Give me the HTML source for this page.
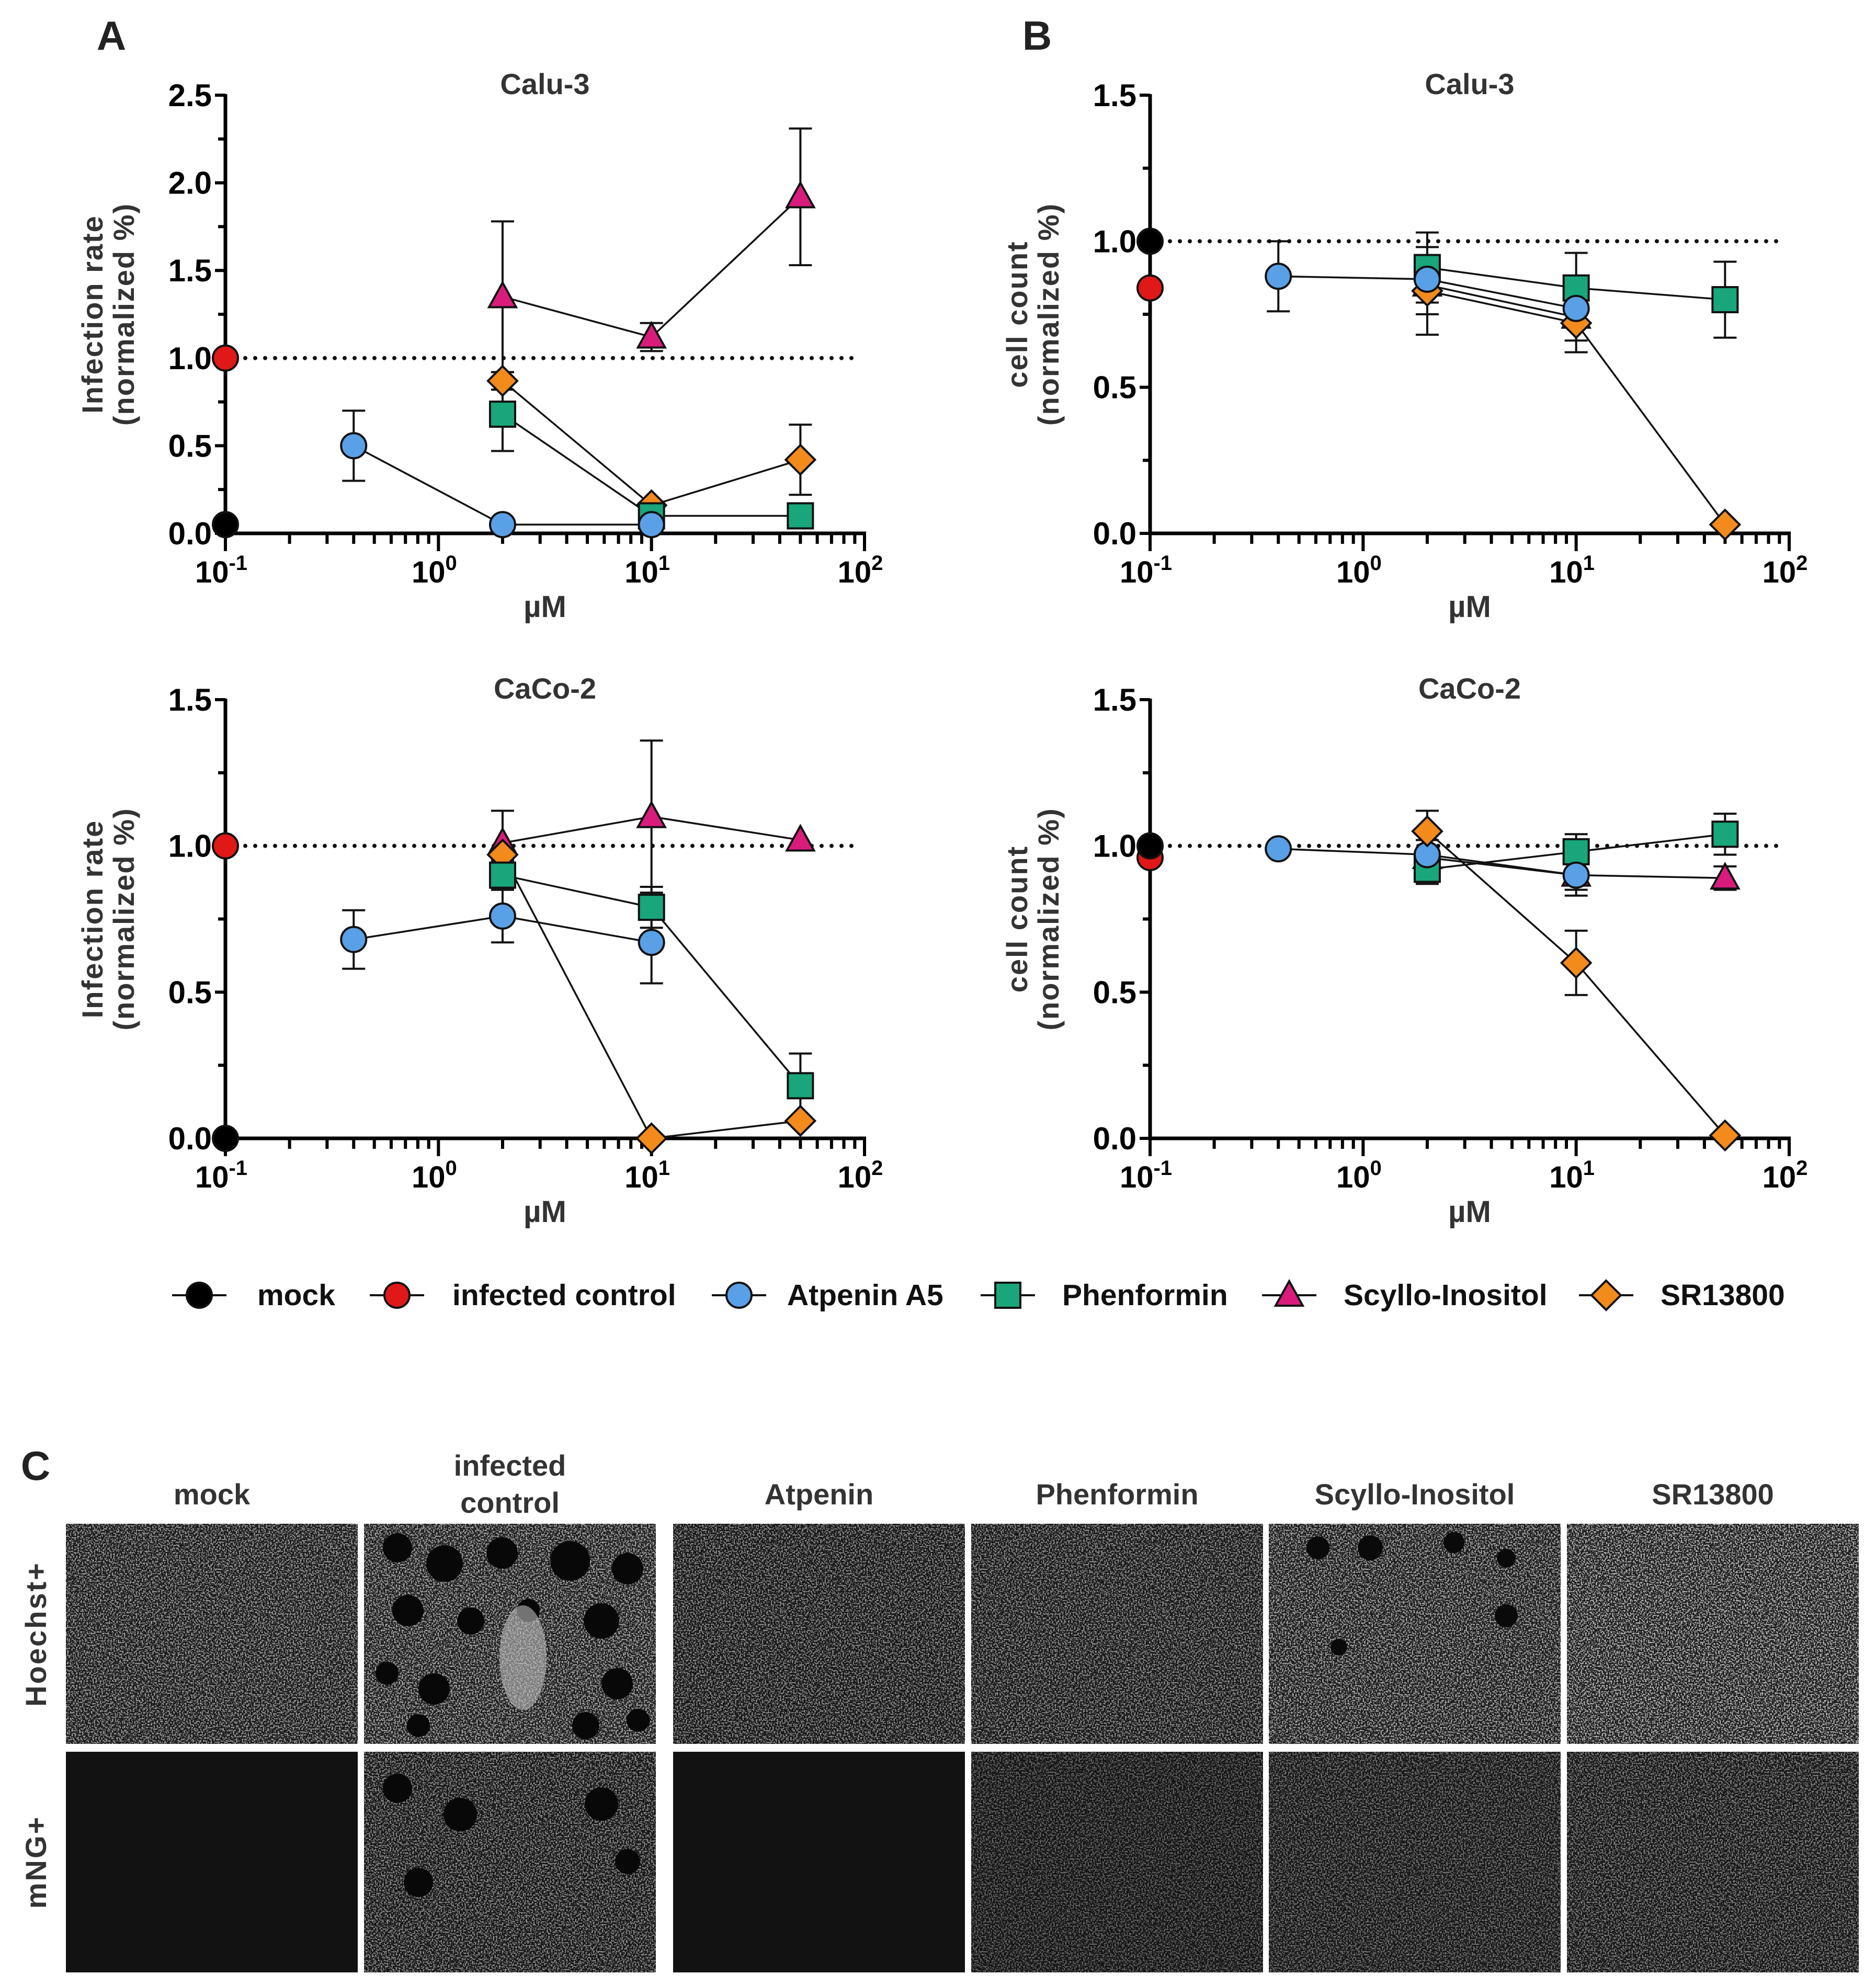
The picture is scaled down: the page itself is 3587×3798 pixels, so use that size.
<!DOCTYPE html>
<html><head><meta charset="utf-8">
<style>
html,body{margin:0;padding:0;background:#fff;}
svg{display:block;font-family:"Liberation Sans",Arial,sans-serif;}
</style></head>
<body>
<svg id="fig" width="3587" height="3798" viewBox="0 0 3587 3798" xmlns="http://www.w3.org/2000/svg">
<defs>
<filter id="speck" x="0" y="0" width="100%" height="100%">
<feTurbulence type="fractalNoise" baseFrequency="0.35" numOctaves="2" seed="3" result="n"/>
<feColorMatrix type="matrix" values="0 0 0 0 0  0 0 0 0 0  0 0 0 0 0  0 0 0 -9 4.6" in="n" result="a"/>
<feFlood flood-color="#ffffff"/>
<feComposite operator="in" in2="a"/>
</filter>
</defs>
<g id="root"></g>
</svg>
<script>
// ---- chart data ----
const doses = [0.4, 2, 10, 50];
const seriesNames = ["Atpenin A5","Phenformin","Scyllo-Inositol","SR13800"];
// Panel A top (Calu-3 infection)
const aTopMock = 0.05, aTopInf = 1.0;
const aTopAtp = [0.5, 0.05, 0.05, null];
const aTopAtpErr = [0.2, 0, 0, null];
const aTopPhen = [null, 0.68, 0.10, 0.10];
const aTopPhenErr = [null, 0.21, 0, 0];
const aTopScy = [null, 1.35, 1.12, 1.92];
const aTopScyErr = [null, 0.43, 0.08, 0.39];
const aTopSR = [null, 0.87, 0.16, 0.42];
const aTopSRErr = [null, 0.05, 0, 0.2];
// Panel B top (Calu-3 cell count)
const bTopMock = 1.0, bTopInf = 0.84;
const bTopAtp = [0.88, 0.87, 0.77, null];
const bTopAtpErr = [0.12, 0.05, 0.05, null];
const bTopPhen = [null, 0.91, 0.84, 0.80];
const bTopPhenErr = [null, 0.12, 0.12, 0.13];
const bTopScy = [null, 0.85, 0.74, null];
const bTopScyErr = [null, 0.1, 0.08, null];
const bTopSR = [null, 0.83, 0.72, 0.03];
const bTopSRErr = [null, 0.15, 0.1, 0];
// Panel A bottom (CaCo-2 infection)
const aBotMock = 0.0, aBotInf = 1.0;
const aBotAtp = [0.68, 0.76, 0.67, null];
const aBotAtpErr = [0.1, 0.09, 0.14, null];
const aBotPhen = [null, 0.90, 0.79, 0.18];
const aBotPhenErr = [null, 0.05, 0.07, 0.11];
const aBotScy = [null, 1.01, 1.10, 1.02];
const aBotScyErr = [null, 0.11, 0.26, 0];
const aBotSR = [null, 0.97, 0.0, 0.06];
const aBotSRErr = [null, 0, 0, 0];
// Panel B bottom (CaCo-2 cell count)
const bBotMock = 1.0, bBotInf = 0.96;
const bBotAtp = [0.99, 0.97, 0.90, null];
const bBotAtpErr = [0, 0.05, 0.07, null];
const bBotPhen = [null, 0.92, 0.98, 1.04];
const bBotPhenErr = [null, 0.05, 0.06, 0.07];
const bBotScy = [null, 0.96, 0.90, 0.89];
const bBotScyErr = [null, 0, 0.05, 0.04];
const bBotSR = [null, 1.05, 0.60, 0.01];
const bBotSRErr = [null, 0.07, 0.11, 0];

const NS = "http://www.w3.org/2000/svg";
const root = document.getElementById("root");
function el(tag, attrs, parent){
  const e = document.createElementNS(NS, tag);
  for (const k in attrs) e.setAttribute(k, attrs[k]);
  (parent||root).appendChild(e);
  return e;
}
const COL = {atp:"#5aa0e6", phen:"#19a67a", scy:"#d91c7c", sr:"#f28a1c", mock:"#000", inf:"#e01818"};

function marker(g, shape, cx, cy, fill, name){
  let m;
  const r = 24;
  if (shape === "circle") m = el("circle", {cx:cx, cy:cy, r:r, fill:fill, stroke:"#111", "stroke-width":4}, g);
  else if (shape === "square") m = el("rect", {x:cx-r, y:cy-r, width:2*r, height:2*r, fill:fill, stroke:"#111", "stroke-width":4}, g);
  else if (shape === "tri") m = el("polygon", {points:`${cx},${cy-27} ${cx+26},${cy+20} ${cx-26},${cy+20}`, fill:fill, stroke:"#111", "stroke-width":4}, g);
  else m = el("polygon", {points:`${cx},${cy-28} ${cx+28},${cy} ${cx},${cy+28} ${cx-28},${cy}`, fill:fill, stroke:"#111", "stroke-width":4}, g);
  
  
  return m;
}

function panel(opt){
  const g = el("g", {});
  
  
  const x0 = opt.x0, x1 = x0 + 1222, yT = opt.yT, yB = opt.yB;
  const X = v => x0 + (Math.log10(v) + 1) / 3 * (x1 - x0);
  const Y = v => yB - v / opt.ymax * (yB - yT);
  const t = el("text", {x:(x0+x1)/2, y:yT-2, "font-size":56, "font-weight":"bold", fill:"#333", "text-anchor":"middle"}, g);
  t.textContent = opt.title;
  
  
  const yl = el("text", {transform:`translate(${x0-235},${(yT+yB)/2}) rotate(-90)`, "font-size":56, "font-weight":"bold", fill:"#333", "text-anchor":"middle", "letter-spacing":"2"}, g);
  
  
  const s1 = el("tspan", {x:0, dy:0}, yl); s1.textContent = opt.ylab;
  const s2 = el("tspan", {x:0, dy:60}, yl); s2.textContent = "(normalized %)";
  const dl = el("line", {x1:x0, x2:x1-24, y1:Y(1), y2:Y(1), stroke:"#111", "stroke-width":8, "stroke-dasharray":"0 19", "stroke-linecap":"round"}, g);
  
  
  el("line", {x1:x0, x2:x0, y1:yT-2, y2:yB+3, stroke:"#000", "stroke-width":7}, g);
  el("line", {x1:x0-3, x2:x1+3, y1:yB, y2:yB, stroke:"#000", "stroke-width":7}, g);
  for (let v = 0; v <= opt.ymax + 1e-9; v += 0.25){
    const major = Math.abs(v/0.5 - Math.round(v/0.5)) < 1e-6;
    el("line", {x1:x0 - (major?20:14), x2:x0, y1:Y(v), y2:Y(v), stroke:"#000", "stroke-width":6}, g);
    if (major){
      const tl = el("text", {x:x0-26, y:Y(v)+21, "font-size":60, "font-weight":"bold", "text-anchor":"end"}, g);
      tl.textContent = v.toFixed(1);
      
      
    }
  }
  const exps = ["-1","0","1","2"];
  for (let d = 0; d < 4; d++){
    const base = Math.pow(10, d-1);
    el("line", {x1:X(base), x2:X(base), y1:yB, y2:yB+34, stroke:"#000", "stroke-width":6}, g);
    const tl = el("text", {x:X(base)-8, y:yB+94, "font-size":58, "font-weight":"bold", "text-anchor":"middle"}, g);
    
    
    const a = el("tspan", {}, tl); a.textContent = "10";
    const b = el("tspan", {dy:-24, "font-size":40}, tl); b.textContent = exps[d];
    if (d < 3) for (let k = 2; k <= 9; k++)
      el("line", {x1:X(base*k), x2:X(base*k), y1:yB, y2:yB+20, stroke:"#000", "stroke-width":6}, g);
  }
  const xl = el("text", {x:(x0+x1)/2, y:yB+160, "font-size":58, "font-weight":"bold", "text-anchor":"middle", fill:"#333"}, g);
  xl.textContent = "µM";
  
  
  const series = [
    {v:opt.atp, e:opt.atpE, c:COL.atp, s:"circle", n:"atpenin"},
    {v:opt.phen, e:opt.phenE, c:COL.phen, s:"square", n:"phenformin"},
    {v:opt.scy, e:opt.scyE, c:COL.scy, s:"tri", n:"scyllo-inositol"},
    {v:opt.sr, e:opt.srE, c:COL.sr, s:"diamond", n:"sr13800"}];
  const order = opt.order || [0,1,2,3];
  series.forEach(S => {
    let pts = [];
    doses.forEach((d,i) => { if (S.v[i] !== null) pts.push([X(d), Y(S.v[i])]); });
    const pl = el("polyline", {points:pts.map(p=>p.join(",")).join(" "), fill:"none", stroke:"#111", "stroke-width":3.5}, g);
    
    
    doses.forEach((d,i) => {
      if (S.v[i] === null || !S.e[i]) return;
      const cx = X(d), hi = Y(S.v[i]+S.e[i]), lo = Y(Math.max(0,S.v[i]-S.e[i]));
      el("line", {x1:cx, x2:cx, y1:hi, y2:lo, stroke:"#111", "stroke-width":4}, g);
      el("line", {x1:cx-22, x2:cx+22, y1:hi, y2:hi, stroke:"#111", "stroke-width":4}, g);
      el("line", {x1:cx-22, x2:cx+22, y1:lo, y2:lo, stroke:"#111", "stroke-width":4}, g);
    });
  });
  order.forEach(k => {
    const S = series[k];
    doses.forEach((d,i) => { if (S.v[i] !== null) marker(g, S.s, X(d), Y(S.v[i]), S.c, S.n + '-point'); });
  });
  marker(g, "circle", X(0.1), Y(opt.inf), COL.inf, 'infected-control-point');
  marker(g, "circle", X(0.1), Y(opt.mock), COL.mock, 'mock-point');
}

panel({name:"panel-a-calu3", title:"Calu-3", ylab:"Infection rate", x0:431, yT:182, yB:1020, ymax:2.5,
  mock:aTopMock, inf:aTopInf, atp:aTopAtp, atpE:aTopAtpErr, phen:aTopPhen, phenE:aTopPhenErr, scy:aTopScy, scyE:aTopScyErr, sr:aTopSR, srE:aTopSRErr, order:[2,3,1,0]});
panel({name:"panel-b-calu3", title:"Calu-3", ylab:"cell count", x0:2199, yT:182, yB:1020, ymax:1.5,
  mock:bTopMock, inf:bTopInf, atp:bTopAtp, atpE:bTopAtpErr, phen:bTopPhen, phenE:bTopPhenErr, scy:bTopScy, scyE:bTopScyErr, sr:bTopSR, srE:bTopSRErr, order:[2,3,1,0]});
panel({name:"panel-a-caco2", title:"CaCo-2", ylab:"Infection rate", x0:431, yT:1338, yB:2177, ymax:1.5,
  mock:aBotMock, inf:aBotInf, atp:aBotAtp, atpE:aBotAtpErr, phen:aBotPhen, phenE:aBotPhenErr, scy:aBotScy, scyE:aBotScyErr, sr:aBotSR, srE:aBotSRErr, order:[2,3,1,0]});
panel({name:"panel-b-caco2", title:"CaCo-2", ylab:"cell count", x0:2199, yT:1338, yB:2177, ymax:1.5,
  mock:bBotMock, inf:bBotInf, atp:bBotAtp, atpE:bBotAtpErr, phen:bBotPhen, phenE:bBotPhenErr, scy:bBotScy, scyE:bBotScyErr, sr:bBotSR, srE:bBotSRErr, order:[2,1,0,3]});

[["A",213,95],["B",1983,95],["C",68,2830]].forEach(L => {
  const t = el("text", {x:L[1], y:L[2], "font-size":78, "font-weight":"bold", "text-anchor":"middle", fill:"#222"});
  t.textContent = L[0];
  
  
});

const legItems = [["mock",381,492,"circle",COL.mock],["infected control",759,865,"circle",COL.inf],["Atpenin A5",1413,1505,"circle",COL.atp],
  ["Phenformin",1927,2031,"square",COL.phen],["Scyllo-Inositol",2465,2569,"tri",COL.scy],["SR13800",3071,3175,"diamond",COL.sr]];
const lg = el("g", {});


legItems.forEach(L => {
  const y = 2477;
  el("line", {x1:L[1]-52, x2:L[1]+52, y1:y, y2:y, stroke:"#111", "stroke-width":4}, lg);
  marker(lg, L[3], L[1], y, L[4], 'legend-marker');
  const t = el("text", {x:L[2], y:y+19, "font-size":57, "font-weight":"bold", fill:"#111"}, lg);
  t.textContent = L[0];
  
  
});

const cols = [[126,"mock"],[696,"infected control"],[1287,"Atpenin"],[1857,"Phenformin"],[2426,"Scyllo-Inositol"],[2996,"SR13800"]];
const W = 558;
const hoechstFill = ["#181818","#1c1c1c","#141414","#161616","#1a1a1a","#1c1c1c"];
const hoechstOp = [0.55,0.6,0.5,0.5,0.6,0.65];
const mngFill = ["#121212","#141414","#121212","#121212","#141414","#141414"];
const mngOp = [0,0.5,0,0.35,0.4,0.45];
cols.forEach((c,i) => {
  const cx = c[0] + W/2;
  if (i === 1){
    const t = el("text", {x:cx, y:2822, "font-size":56, "font-weight":"bold", fill:"#333", "text-anchor":"middle"});
    t.textContent = "infected";
    
    
    const t2 = el("text", {x:cx, y:2893, "font-size":56, "font-weight":"bold", fill:"#333", "text-anchor":"middle"});
    t2.textContent = "control";
    
    
  } else {
    const t = el("text", {x:cx, y:2877, "font-size":56, "font-weight":"bold", fill:"#333", "text-anchor":"middle"});
    t.textContent = c[1];
    
    
  }
  const r1 = el("rect", {x:c[0], y:2914, width:W, height:421, fill:hoechstFill[i]});
  
  
  el("rect", {x:c[0], y:2914, width:W, height:421, fill:"#fff", filter:"url(#speck)", opacity:hoechstOp[i]});
  const r2 = el("rect", {x:c[0], y:3350, width:W, height:422, fill:mngFill[i]});
  
  
  if (mngOp[i] > 0) el("rect", {x:c[0], y:3350, width:W, height:422, fill:"#fff", filter:"url(#speck)", opacity:mngOp[i]});
});
const holes = [[760,2960,28],[850,2990,35],[960,2970,30],[1090,2985,38],[1200,3000,30],[780,3080,30],[900,3100,26],[1010,3080,22],[1150,3100,34],
 [740,3200,22],[830,3230,30],[1180,3220,30],[800,3300,22],[1120,3300,26],[1220,3290,22]];
holes.forEach(h => el("circle", {cx:h[0], cy:h[1], r:h[2], fill:"#080808"}));
const glow = el("ellipse", {cx:1000, cy:3170, rx:45, ry:100, fill:"#bbb", opacity:0.6});


[[2520,2960,22],[2620,2960,24],[2780,2950,20],[2880,2980,18],[2880,3090,22],[2560,3150,16]].forEach(h => el("circle", {cx:h[0], cy:h[1], r:h[2], fill:"#0a0a0a"}));
[[760,3420,28],[880,3470,32],[1150,3450,32],[800,3600,28],[1200,3560,24]].forEach(h => el("circle", {cx:h[0], cy:h[1], r:h[2], fill:"#080808"}));

[["Hoechst+",3125],["mNG+",3561]].forEach(R => {
  const t = el("text", {transform:`translate(88,${R[1]}) rotate(-90)`, "font-size":56, "font-weight":"bold", fill:"#333", "text-anchor":"middle", "letter-spacing":"3"});
  t.textContent = R[0];
  
  
});
</script>
</body></html>
